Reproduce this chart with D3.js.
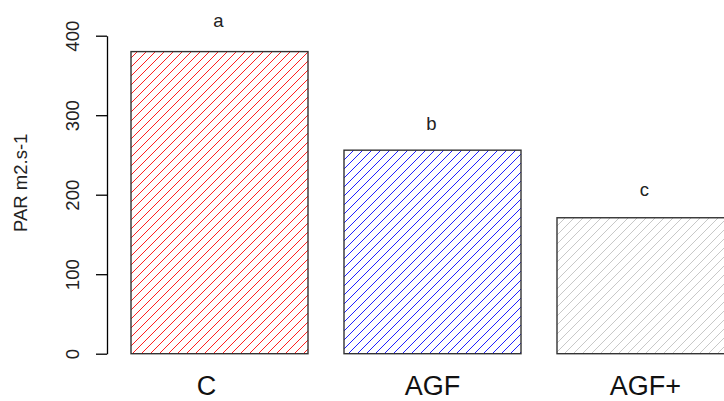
<!DOCTYPE html>
<html>
<head>
<meta charset="utf-8">
<script src="https://cdn.jsdelivr.net/npm/d3@7"></script>
<style>
  body { margin: 0; background: #fff; }
  svg { display: block; font-family: "Liberation Sans", Arial, sans-serif; }
</style>
</head>
<body>
<div id="chart"></div>
<script>
// chart data
const categories = ["C", "AGF", "AGF+"];
const parValues = [380, 256, 171];
const groupLetters = ["a", "b", "c"];
const letterHeights = [411, 282, 198];
const yTicks = [0, 100, 200, 300, 400];
const hatchColors = ["#ff2020", "#2020ff", "#c8c8c8"];

const width = 724;
const height = 401;

const svg = d3.select("#chart")
  .append("svg")
  .attr("width", width)
  .attr("height", height);

// scales
const yScale = d3.scaleLinear()
  .domain([0, 400])
  .range([353.7, 35.7]);

const xScale = d3.scaleBand()
  .domain(categories)
  .range([131, 734])
  .paddingInner(0.169)
  .paddingOuter(0);

// hatch patterns, one per bar
const defs = svg.append("defs");
hatchColors.forEach((col, i) => {
  const p = defs.append("pattern")
    .attr("id", "hatch" + i)
    .attr("patternUnits", "userSpaceOnUse")
    .attr("width", 9)
    .attr("height", 9);
  p.append("path")
    .attr("d", "M-1,10 L10,-1 M-2,2 L2,-2 M7,11 L11,7")
    .attr("stroke", col)
    .attr("stroke-width", 1);
});

// bars
svg.selectAll(".bar")
  .data(parValues)
  .enter()
  .append("rect")
    .attr("class", "bar")
    .attr("x", (d, i) => xScale(categories[i]))
    .attr("y", d => yScale(d))
    .attr("width", xScale.bandwidth())
    .attr("height", d => yScale(0) - yScale(d))
    .attr("fill", (d, i) => "url(#hatch" + i + ")")
    .attr("stroke", "#333")
    .attr("stroke-width", 1.4);

// letters above bars
svg.selectAll(".letter")
  .data(groupLetters)
  .enter()
  .append("text")
    .attr("class", "letter")
    .attr("x", (d, i) => xScale(categories[i]) + xScale.bandwidth() / 2 - 1)
    .attr("y", (d, i) => yScale(letterHeights[i]))
    .attr("text-anchor", "middle")
    .attr("font-size", "18.5px")
    .attr("fill", "#222")
    .text(d => d);

// y axis
const yAxis = svg.append("g")
  .attr("transform", "translate(107,0)")
  .call(d3.axisLeft(yScale).tickValues(yTicks).tickSize(11).tickSizeOuter(0));

yAxis.select(".domain").attr("stroke", "#000").attr("stroke-width", 1.3);
yAxis.selectAll(".tick line").attr("stroke", "#000").attr("stroke-width", 1.3);
yAxis.selectAll(".tick text")
  .attr("transform", "rotate(-90)")
  .attr("x", 0)
  .attr("y", -28)
  .attr("dy", null)
  .attr("text-anchor", "middle")
  .attr("font-size", "18.5px")
  .attr("fill", "#222");

// y axis title
svg.append("text")
  .attr("transform", "translate(27,232) rotate(-90)")
  .attr("text-anchor", "start")
  .attr("font-size", "18.5px")
  .attr("fill", "#222")
  .text("PAR m2.s-1");

// category labels (the C label sits a little left of its bar in the original)
const catShift = {C: -13};
svg.selectAll(".cat")
  .data(categories)
  .enter()
  .append("text")
    .attr("class", "cat")
    .attr("x", d => xScale(d) + xScale.bandwidth() / 2 + (catShift[d] || 0))
    .attr("y", 394.5)
    .attr("text-anchor", "middle")
    .attr("font-size", "27px")
    .attr("fill", "#111")
    .text(d => d);
</script>
</body>
</html>
